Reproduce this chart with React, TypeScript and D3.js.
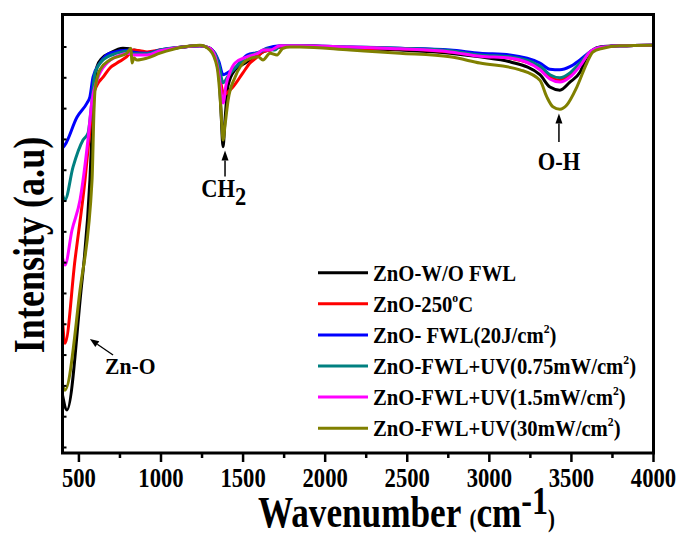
import React from 'react';
import * as d3 from 'd3';

type P = [number, number];

const xMajorTicks = [500, 1000, 1500, 2000, 2500, 3000, 3500, 4000];
const xMinorTicks = [750, 1250, 1750, 2250, 2750, 3250, 3750];
const yTicks = [35, 40, 45, 50, 55, 60, 65, 70, 75, 80, 85, 90, 95, 100];

const seriesBlack: P[] = [[400,43.5],[427,41.1],[507,58.9],[567,78.4],[586,89.8],[598,94.6],[610,96.8],[641,98.2],[689,99.0],[768,99.8],[811,99.7],[823,99.0],[835,99.5],[915,99.0],[994,99.4],[1134,100.0],[1237,100.2],[1298,99.8],[1329,98.7],[1353,95.5],[1365,89.8],[1378,83.8],[1390,88.2],[1409,93.8],[1451,96.3],[1499,97.2],[1542,97.9],[1591,98.7],[1621,99.2],[1664,99.5],[1725,100.0],[1786,100.2],[1846,100.2],[2151,99.8],[2455,99.5],[2760,99.0],[2943,98.4],[3125,97.6],[3308,95.5],[3369,93.5],[3430,93.0],[3491,94.3],[3552,95.9],[3594,98.4],[3631,99.5],[3673,100.0],[3795,100.2],[4000,100.3]];

const seriesRed: P[] = [[400,55.8],[415,51.9],[476,65.4],[537,78.4],[567,86.5],[586,91.9],[610,93.8],[647,95.1],[689,96.6],[732,97.4],[811,99.0],[823,99.5],[872,99.4],[915,99.2],[994,99.5],[1134,100.0],[1237,100.2],[1298,99.8],[1329,98.7],[1353,96.3],[1371,93.3],[1384,92.2],[1409,92.7],[1438,93.5],[1499,95.8],[1542,97.4],[1578,98.2],[1621,99.2],[1664,99.5],[1725,100.0],[1786,100.2],[1846,100.2],[2151,99.8],[2455,99.7],[2760,99.2],[2943,98.7],[3125,98.2],[3308,96.6],[3369,95.1],[3430,94.6],[3491,95.5],[3552,97.1],[3613,99.2],[3655,99.8],[3795,100.2],[4000,100.3]];

const seriesBlue: P[] = [[400,83.6],[415,84.1],[488,88.6],[549,90.9],[567,91.9],[586,95.1],[628,97.4],[689,99.0],[811,99.5],[823,99.2],[915,99.0],[994,99.5],[1134,100.0],[1237,100.2],[1298,99.8],[1329,99.0],[1353,97.6],[1378,95.5],[1409,95.9],[1451,96.6],[1524,98.7],[1603,99.2],[1646,99.8],[1725,100.2],[1846,100.2],[2151,100.0],[2455,99.8],[2760,99.5],[2943,99.0],[3125,98.7],[3308,97.4],[3369,96.4],[3430,96.3],[3491,96.8],[3552,97.9],[3613,99.2],[3655,99.8],[3795,100.2],[4000,100.3]];

const seriesTeal: P[] = [[400,76.0],[415,75.2],[464,80.5],[525,84.9],[555,86.0],[580,91.4],[598,95.8],[647,97.9],[732,99.0],[811,99.4],[823,98.9],[915,98.9],[994,99.5],[1134,100.0],[1237,100.2],[1298,99.8],[1329,98.9],[1353,97.1],[1378,94.2],[1409,95.3],[1451,96.6],[1524,98.4],[1603,99.2],[1646,99.7],[1694,99.5],[1725,100.2],[1846,100.2],[2151,100.0],[2455,99.8],[2760,99.4],[2943,98.7],[3125,98.4],[3308,96.9],[3369,95.5],[3430,95.0],[3491,95.8],[3552,97.4],[3613,99.2],[3655,99.8],[3795,100.2],[4000,100.3]];

const seriesMagenta: P[] = [[400,65.8],[415,64.6],[458,70.3],[507,75.2],[555,84.9],[580,91.4],[610,94.6],[671,97.4],[732,98.5],[811,99.0],[823,98.7],[915,98.7],[994,99.4],[1134,100.0],[1237,100.2],[1298,99.8],[1329,98.5],[1353,95.5],[1378,90.9],[1396,93.8],[1420,95.9],[1451,97.4],[1524,98.4],[1591,99.0],[1621,99.5],[1664,99.5],[1725,100.2],[1846,100.2],[2151,100.0],[2455,99.7],[2760,99.2],[2943,98.5],[3125,98.2],[3308,96.3],[3369,94.8],[3430,94.3],[3491,95.1],[3552,96.9],[3613,99.2],[3655,99.8],[3795,100.2],[4000,100.3]];

const seriesOlive: P[] = [[400,45.1],[415,44.3],[507,60.6],[580,78.4],[592,89.8],[598,93.0],[628,96.3],[689,97.9],[793,99.0],[817,99.8],[823,97.4],[835,98.2],[854,97.9],[915,98.2],[994,99.0],[1134,100.0],[1237,100.3],[1298,99.5],[1341,96.8],[1359,92.2],[1371,87.3],[1378,84.9],[1390,87.3],[1409,91.4],[1451,95.1],[1524,97.9],[1591,98.4],[1621,97.9],[1664,99.0],[1707,98.7],[1743,99.8],[1786,100.0],[1846,100.0],[2151,99.5],[2455,99.0],[2760,98.4],[2943,97.4],[3186,96.3],[3308,94.6],[3350,91.9],[3387,90.3],[3430,89.9],[3472,90.6],[3533,93.5],[3594,97.4],[3631,99.2],[3692,99.8],[3795,100.2],[4000,100.3]];

const seriesData: P[][] = [seriesBlack, seriesRed, seriesBlue, seriesTeal, seriesMagenta, seriesOlive];
const seriesColors = ['#000000', '#ff0000', '#0000ff', '#008080', '#ff00ff', '#808000'];
// legend labels: [main, superscript, tail]
const legendLabels: [string, string, string][] = [
  ['ZnO-W/O FWL', '', ''],
  ['ZnO-250', 'o', 'C'],
  ['ZnO- FWL(20J/cm', '2', ')'],
  ['ZnO-FWL+UV(0.75mW/cm', '2', ')'],
  ['ZnO-FWL+UV(1.5mW/cm', '2', ')'],
  ['ZnO-FWL+UV(30mW/cm', '2', ')'],
];

const W = 683;
const H = 534;
const L = 62.5, R = 653.5, T = 14.5, B = 453;
const FONT = '"Liberation Serif", "Times New Roman", serif';

export default function App() {
  const x = d3.scaleLinear().domain([400, 4000]).range([L, R]);
  const y = d3.scaleLinear().domain([100 - (B - 47) * 0.1623, 100 + (47 - T) * 0.1623]).range([B, T]);
  const line = d3.line<P>().x(d => x(d[0])).y(d => y(d[1])).curve(d3.curveMonotoneX);

  const legendX0 = 318, legendX1 = 368, legendY0 = 272.7, legendDY = 31.1;

  const arrow = (x1: number, y1: number, x2: number, y2: number, head = 10, hw = 3.5, sw = 1.5) => {
    const ang = Math.atan2(y2 - y1, x2 - x1);
    const bx = x2 - head * Math.cos(ang), by = y2 - head * Math.sin(ang);
    const px = -Math.sin(ang) * hw, py = Math.cos(ang) * hw;
    return (
      <g>
        <line x1={x1} y1={y1} x2={bx} y2={by} stroke="#000" strokeWidth={sw} />
        <polygon points={`${x2},${y2} ${bx + px},${by + py} ${bx - px},${by - py}`} fill="#000" />
      </g>
    );
  };

  return (
    <svg width={W} height={H} style={{ position: 'absolute', left: 0, top: 0, background: '#fff' }} fontFamily={FONT} fontWeight="bold">
      <rect x={0} y={0} width={W} height={H} fill="#fff" />
      {/* series */}
      <g fill="none" strokeWidth={3} strokeLinejoin="round">
        {seriesData.map((s, i) => (
          <path key={i} d={line(s) || ''} stroke={seriesColors[i]} />
        ))}
      </g>
      {/* frame */}
      <rect x={L} y={T} width={R - L} height={B - T} fill="none" stroke="#000" strokeWidth={3} />
      {/* x ticks */}
      {xMajorTicks.map(t => (
        <line key={'M' + t} x1={x(t)} x2={x(t)} y1={B} y2={B + 9} stroke="#000" strokeWidth={2.5} />
      ))}
      {xMinorTicks.map(t => (
        <line key={'m' + t} x1={x(t)} x2={x(t)} y1={B} y2={B + 5} stroke="#000" strokeWidth={2.5} />
      ))}
      {xMajorTicks.map(t => (
        <text key={'l' + t} transform={`translate(${x(t)},487) scale(0.84,1)`} textAnchor="middle" fontSize={27}>{t}</text>
      ))}
      {/* y ticks (inward, unlabeled) */}
      {yTicks.map(t => (
        <line key={'y' + t} x1={L} x2={L + 4} y1={y(t)} y2={y(t)} stroke="#000" strokeWidth={2} />
      ))}
      {/* axis titles */}
      <text transform={`translate(258,527) scale(0.8,1)`} fontSize={44}>
        <tspan>Wavenumber </tspan>
        <tspan fontSize={26}>(</tspan>
        <tspan>cm</tspan>
        <tspan fontSize={40} dy={-13}>-1</tspan>
        <tspan fontSize={26} dy={13}>)</tspan>
      </text>
      <text transform={`translate(44,245) rotate(-90) scale(0.82,1)`} textAnchor="middle" fontSize={44}>Intensity (a.u)</text>
      {/* legend */}
      {legendLabels.map((lab, i) => {
        const ly = legendY0 + i * legendDY;
        return (
          <g key={'lg' + i}>
            <line x1={legendX0} x2={legendX1} y1={ly} y2={ly} stroke={seriesColors[i]} strokeWidth={3} />
            <text transform={`translate(373,${ly + 8}) scale(0.9,1)`} fontSize={23}>
              <tspan>{lab[0]}</tspan>
              {lab[1] ? <tspan fontSize={13} dy={-10}>{lab[1]}</tspan> : null}
              {lab[2] ? <tspan dy={10}>{lab[2]}</tspan> : null}
            </text>
          </g>
        );
      })}
      {/* annotations */}
      {arrow(x(1390), y(79.0), x(1390), y(83.2), 10, 3.5, 1.5)}
      <text transform={`translate(${x(1382)},${y(75.7)}) scale(0.9,1)`} textAnchor="middle" fontSize={25}>
        <tspan>CH</tspan>
        <tspan dy={8}>2</tspan>
      </text>
      {arrow(x(3424), y(84.6), x(3424), y(89.2), 10, 3.5, 1.5)}
      <text transform={`translate(${x(3424)},${y(80.0)}) scale(0.9,1)`} textAnchor="middle" fontSize={25}>O-H</text>
      {arrow(x(708), y(50.0), x(567), y(52.6), 9, 3.5, 1.3)}
      <text transform={`translate(${x(659)},${y(46.9)}) scale(0.9,1)`} fontSize={24}>Zn-O</text>
    </svg>
  );
}
